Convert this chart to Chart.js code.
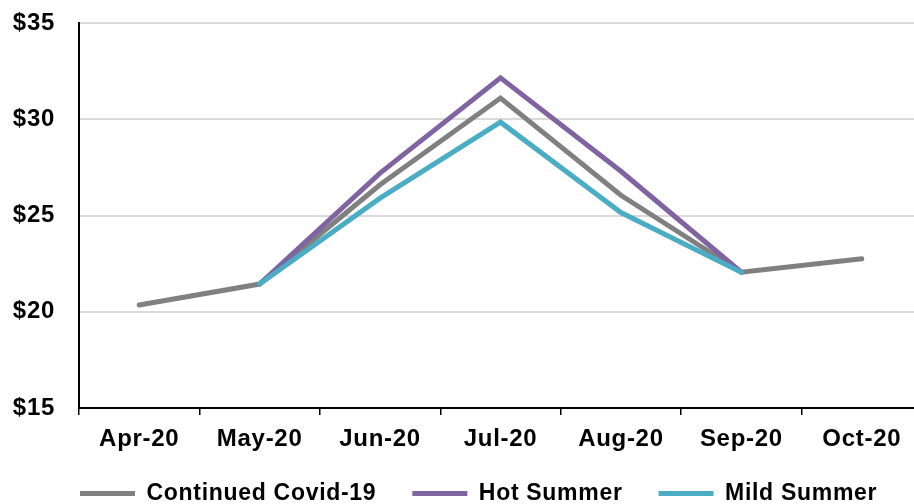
<!DOCTYPE html>
<html>
<head>
<meta charset="utf-8">
<script src="https://cdn.jsdelivr.net/npm/chart.js@4/dist/chart.umd.min.js"></script>
<style>
  html, body { margin: 0; padding: 0; background: #fff; overflow: hidden; }
  #wrap { width: 922px; height: 504px; }
</style>
</head>
<body>
<div id="wrap"><canvas id="c" width="922" height="504"></canvas></div>
<script>
// Monthly price outlook by scenario ($)
const months = ['Apr-20', 'May-20', 'Jun-20', 'Jul-20', 'Aug-20', 'Sep-20', 'Oct-20'];
const continuedCovid = [20.35, 21.44, 26.6, 31.1, 26.05, 22.05, 22.75];
const hotSummer = [null, 21.44, 27.2, 32.15, 27.3, 22.05, null];
const mildSummer = [null, 21.44, 25.9, 29.85, 25.15, 22.05, null];
const yTicks = [15, 20, 25, 30, 35];

const FONT = "'Liberation Sans', Arial, sans-serif";

// Slightly wider letter spacing for all canvas text
const spacing = {
  id: 'spacing',
  beforeLayout(chart) { chart.ctx.letterSpacing = '0.7px'; },
  beforeDraw(chart) { chart.ctx.letterSpacing = '0.7px'; }
};

// Compact legend band, with its row placed under the axis labels
const legendPlacement = {
  id: 'legendPlacement',
  beforeLayout(chart) {
    const lg = chart.legend;
    if (lg && !lg._compact) {
      lg._compact = true;
      const fit = lg.fit;
      lg.fit = function () {
        fit.call(this);
        this.height = 46;
        if (this.minSize) this.minSize.height = 46;
      };
    }
  },
  afterLayout(chart) {
    const lg = chart.legend;
    if (!lg) return;
    const dx = 44, top = 446;
    lg.left += dx;
    lg.right += dx;
    lg.top = top;
    lg.bottom = chart.height;
    lg.height = lg.bottom - lg.top;
  }
};

function series(label, data, color, order) {
  return {
    label, data, order,
    borderColor: color,
    backgroundColor: color,
    borderWidth: 5,
    borderCapStyle: 'round',
    borderJoinStyle: 'miter',
    pointRadius: 0,
    pointHoverRadius: 0,
    tension: 0,
    spanGaps: false
  };
}

new Chart(document.getElementById('c'), {
  type: 'line',
  data: {
    labels: months,
    datasets: [
      series('Continued Covid-19', continuedCovid, '#808080', 3),
      series('Hot Summer', hotSummer, '#8064A2', 2),
      series('Mild Summer', mildSummer, '#4BACC6', 1)
    ]
  },
  plugins: [spacing, legendPlacement],
  options: {
    responsive: false,
    animation: false,
    events: [],
    layout: { padding: { top: 23, left: 0, right: 0, bottom: 0 } },
    plugins: {
      tooltip: { enabled: false },
      legend: {
        position: 'bottom',
        align: 'start',
        labels: {
          color: '#000',
          font: { family: FONT, size: 23, weight: 'bold' },
          boxWidth: 55,
          boxHeight: 5,
          padding: 36,
          generateLabels(chart) {
            return chart.data.datasets.map((ds, i) => ({
              text: ds.label,
              fillStyle: ds.borderColor,
              strokeStyle: ds.borderColor,
              lineWidth: 0,
              fontColor: '#000',
              hidden: false,
              datasetIndex: i
            }));
          }
        }
      }
    },
    scales: {
      x: {
        offset: true,
        grid: {
          offset: true,
          drawOnChartArea: false,
          drawTicks: true,
          tickLength: 7,
          color: '#000',
          lineWidth: 1.5
        },
        border: { color: '#000', width: 2 },
        ticks: {
          color: '#000',
          font: { family: FONT, size: 24, weight: 'bold' },
          padding: 10,
          autoSkip: false,
          maxRotation: 0
        },
        afterFit(scale) { scale.height = 50; }
      },
      y: {
        min: 15,
        max: 35,
        afterBuildTicks(scale) { scale.ticks = yTicks.map(v => ({ value: v })); },
        grid: {
          drawTicks: false,
          color: '#dadada',
          lineWidth: 2
        },
        border: { color: '#000', width: 2 },
        ticks: {
          color: '#000',
          font: { family: FONT, size: 24, weight: 'bold' },
          padding: 24,
          callback: v => '$' + v
        },
        afterFit(scale) {
          scale.width = 79;
          scale.paddingTop = 0;
          scale.paddingBottom = 0;
        }
      }
    }
  }
});
</script>
</body>
</html>
